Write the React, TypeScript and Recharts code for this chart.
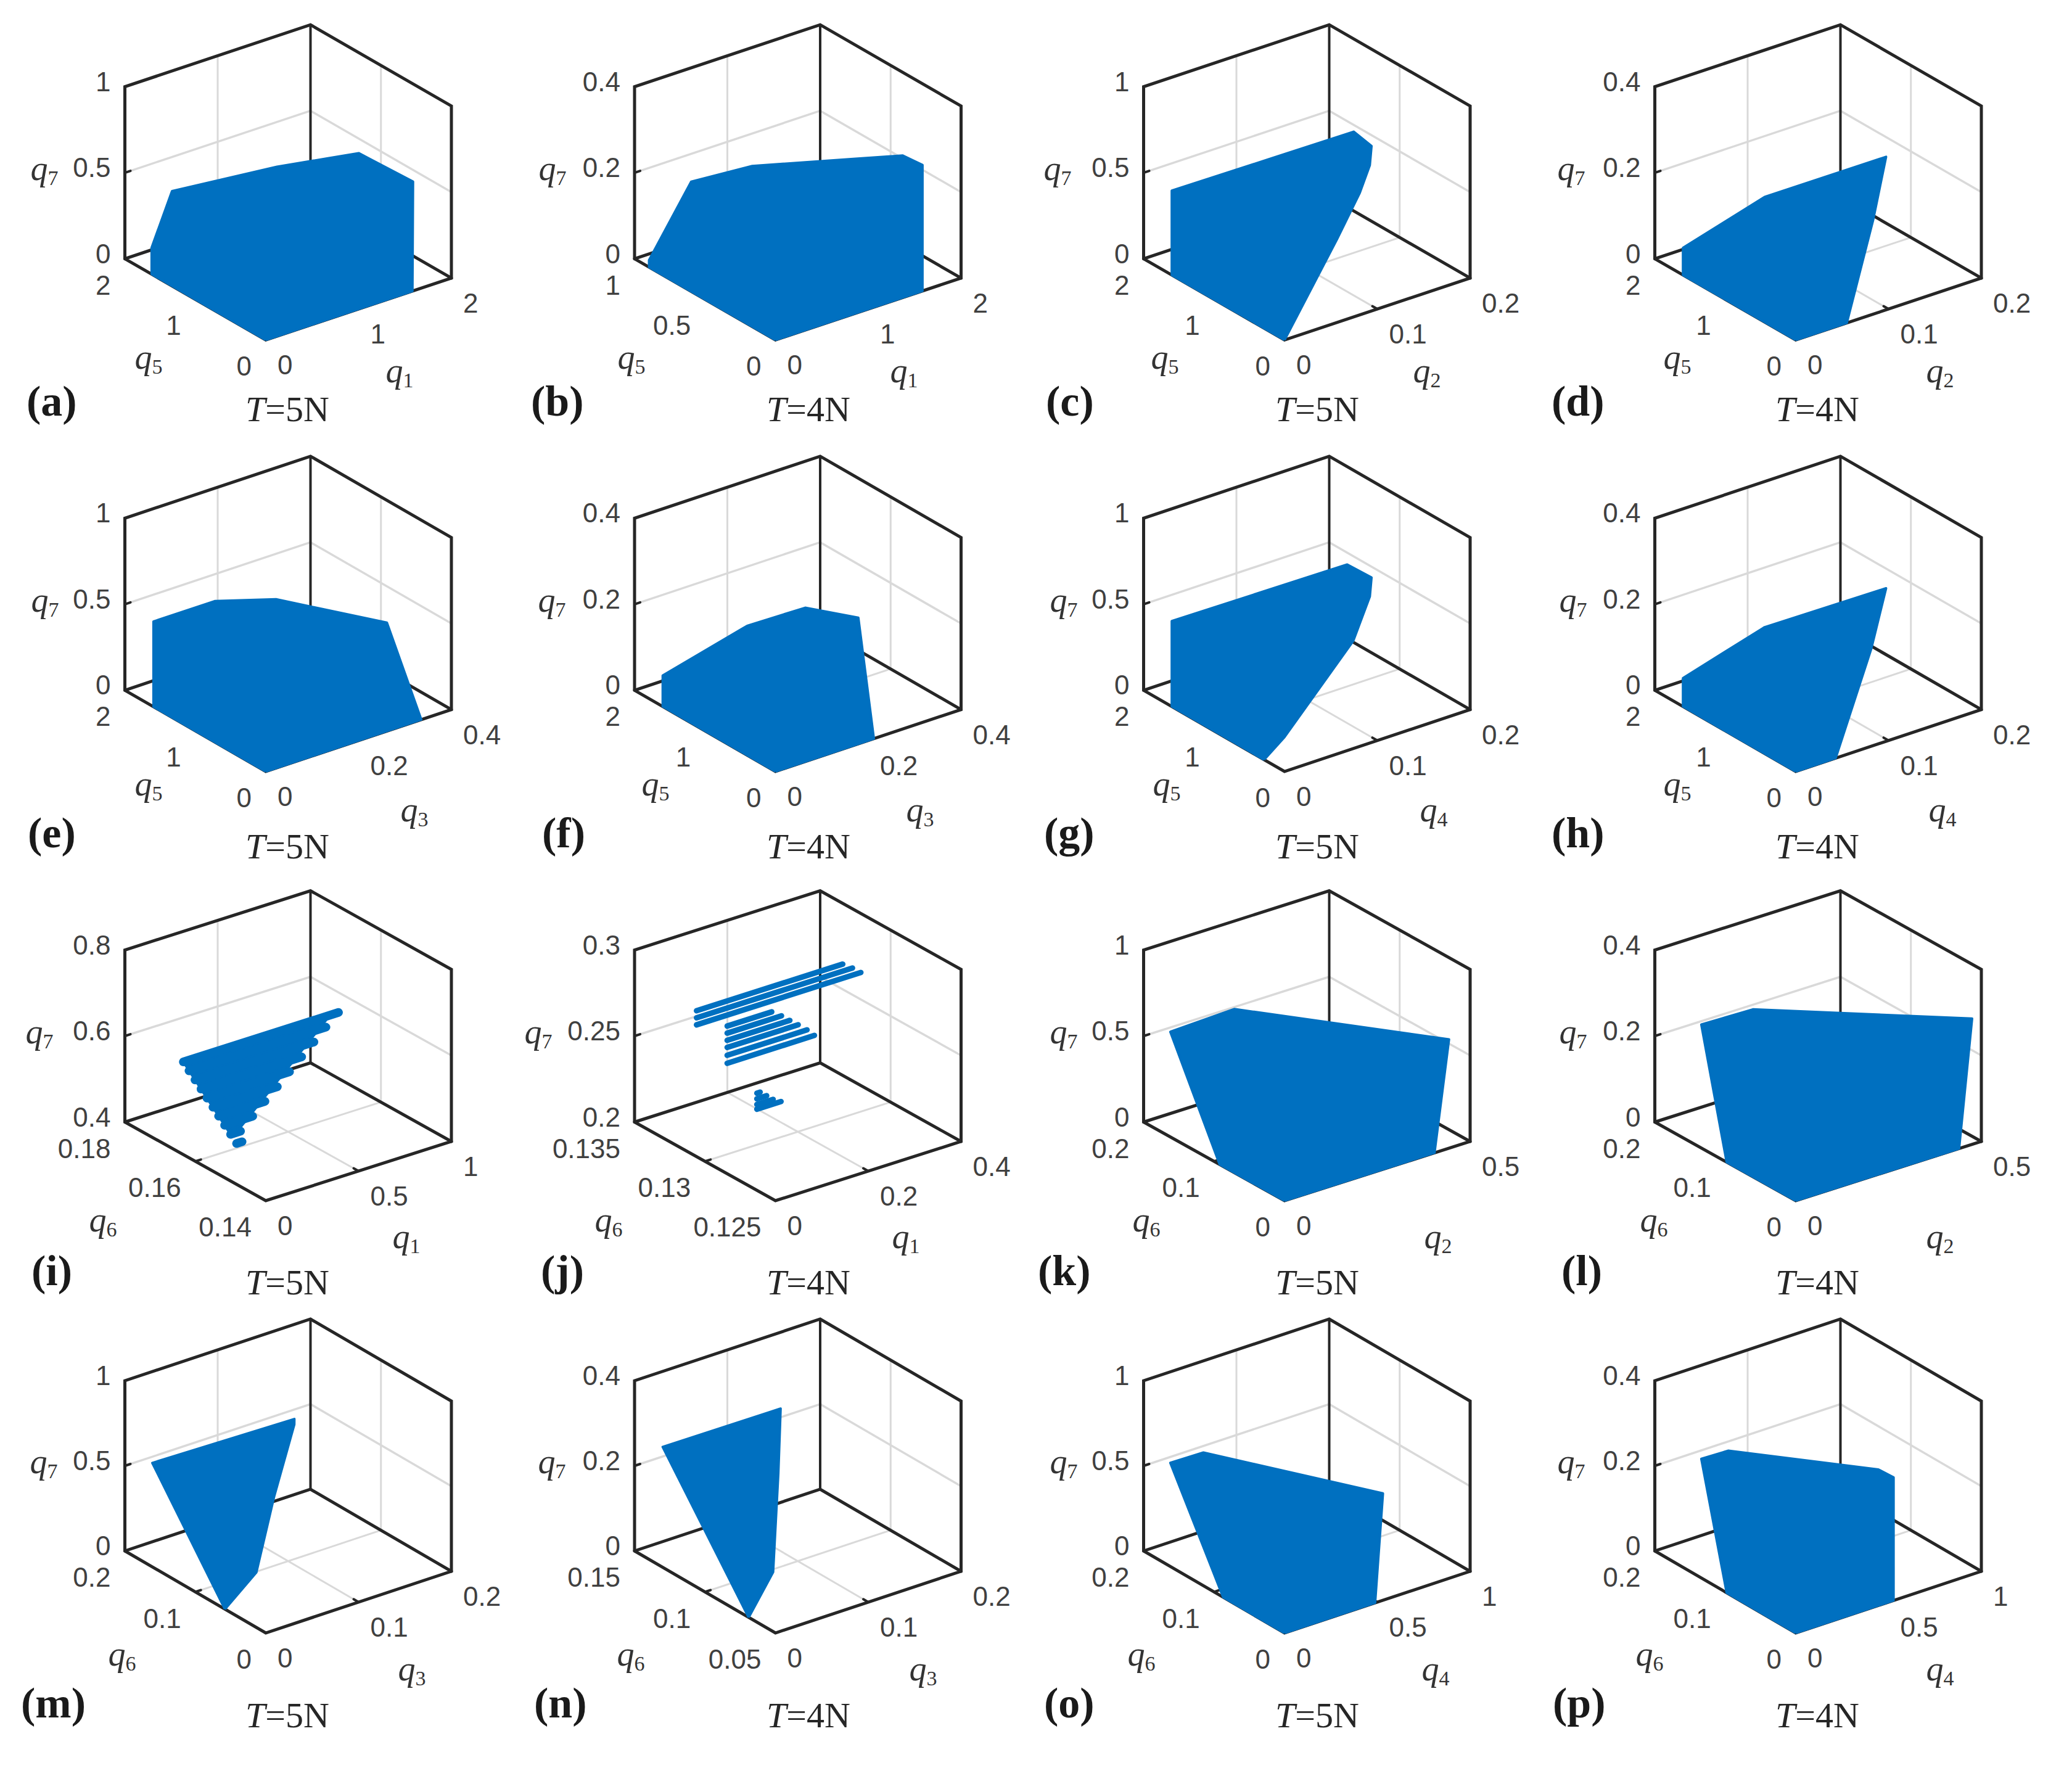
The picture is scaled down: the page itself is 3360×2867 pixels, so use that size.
import React from "react";
import { ScatterChart, Scatter, XAxis, YAxis } from "recharts";

// ---- values ----
const letters = ["a", "b", "c", "d", "e", "f", "g", "h", "i", "j", "k", "l", "m", "n", "o", "p"];
const thrust = [5, 4, 5, 4, 5, 4, 5, 4, 5, 4, 5, 4, 5, 4, 5, 4];
const xSub = [1, 1, 2, 2, 3, 3, 4, 4, 1, 1, 2, 2, 3, 3, 4, 4];
const ySub = [5, 5, 5, 5, 5, 5, 5, 5, 6, 6, 6, 6, 6, 6, 6, 6];

const xTicks = [
  [0, 1, 2], [0, 1, 2], [0, 0.1, 0.2], [0, 0.1, 0.2],
  [0, 0.2, 0.4], [0, 0.2, 0.4], [0, 0.1, 0.2], [0, 0.1, 0.2],
  [0, 0.5, 1], [0, 0.2, 0.4], [0, 0.5], [0, 0.5],
  [0, 0.1, 0.2], [0, 0.1, 0.2], [0, 0.5, 1], [0, 0.5, 1],
];
const yTicks = [
  [0, 1, 2], [0, 0.5, 1], [0, 1, 2], [0, 1, 2],
  [0, 1, 2], [0, 1, 2], [0, 1, 2], [0, 1, 2],
  [0.14, 0.16, 0.18], [0.125, 0.13, 0.135], [0, 0.1, 0.2], [0, 0.1, 0.2],
  [0, 0.1, 0.2], [0.05, 0.1, 0.15], [0, 0.1, 0.2], [0, 0.1, 0.2],
];
const zTicks = [
  [0, 0.5, 1], [0, 0.2, 0.4], [0, 0.5, 1], [0, 0.2, 0.4],
  [0, 0.5, 1], [0, 0.2, 0.4], [0, 0.5, 1], [0, 0.2, 0.4],
  [0.4, 0.6, 0.8], [0.2, 0.25, 0.3], [0, 0.5, 1], [0, 0.2, 0.4],
  [0, 0.5, 1], [0, 0.2, 0.4], [0, 0.5, 1], [0, 0.2, 0.4],
];

// workspace outlines, each point is [x axis value, y axis value, q7]
const hullA = [[0, 0, 0], [0, 1.62, 0], [0, 1.62, 0.154], [0.22, 1.62, 0.443], [1.35, 1.62, 0.381], [1.76, 1, 0.533], [1.89, 0.4, 0.486], [1.58, 0, 0]];
const hullB = [[0, 0, 0], [0, 0.897, 0], [0, 0.897, 0.016], [0.454, 0.897, 0.166], [1.112, 0.897, 0.155], [1.824, 0.3, 0.241], [1.736, 0.1, 0.263], [1.584, 0, 0]];
const hullC = [[0, 0, 0], [0, 1.6, 0], [0, 1.6, 0.49], [0.196, 1.6, 0.48], [0.2, 1.4, 0.437], [0.183, 1.2, 0.404], [0.157, 1, 0.337], [0.102, 0.6, 0.26]];
const hullD = [[0, 0, 0], [0, 1.6, 0], [0, 1.6, 0.063], [0.088, 1.6, 0.118], [0.196, 1.3, 0.162], [0.144, 0.8, 0.099], [0.055, 0, 0]];
const hullE = [[0, 0, 0], [0, 1.594, 0], [0, 1.594, 0.495], [0.132, 1.594, 0.495], [0.264, 1.594, 0.387], [0.352, 0.6, 0.407], [0.335, 0, 0]];
const hullF = [[0, 0, 0], [0, 1.6, 0], [0, 1.6, 0.072], [0.182, 1.6, 0.122], [0.307, 1.6, 0.119], [0.3, 0.8, 0.174], [0.212, 0, 0]];
const hullG = [[0, 0.29, 0], [0, 1.6, 0], [0, 1.6, 0.496], [0.189, 1.6, 0.485], [0.2, 1.4, 0.437], [0.183, 1.2, 0.404], [0.15, 1, 0.254], [0.022, 0.29, 0.092]];
const hullH = [[0, 0, 0], [0, 1.6, 0], [0, 1.6, 0.066], [0.088, 1.6, 0.121], [0.196, 1.3, 0.162], [0.142, 0.8, 0.107], [0.043, 0, 0]];
const hullI = [[0, 0.1634, 0.6156], [0.79, 0.1634, 0.6156], [0.03, 0.15, 0.5084], [0, 0.15, 0.5084]];
const hullK = [[0, 0, 0], [0, 0.092, 0], [0, 0.162, 0.611], [0.172, 0.162, 0.625], [0.481, 0.02, 0.561], [0.404, 0, 0]];
const hullL = [[0, 0, 0], [0, 0.098, 0], [0, 0.134, 0.287], [0.139, 0.134, 0.284], [0.494, 0.01, 0.278], [0.44, 0, 0]];
const hullM = [[0, 0.058, 0], [0, 0.161, 0.611], [0.153, 0.161, 0.592], [0.137, 0.14, 0.639], [0.085, 0.1, 0.409], [0.043, 0.07, 0.11]];
const hullN = [[0, 0.069, 0], [0, 0.13, 0.283], [0.127, 0.13, 0.281], [0.079, 0.1, 0.222], [0.043, 0.08, 0.054]];
const hullO = [[0, 0, 0], [0, 0.087, 0], [0, 0.162, 0.609], [0.178, 0.162, 0.605], [0.682, 0.04, 0.476], [0.488, 0, 0]];
const hullP = [[0, 0, 0], [0, 0.098, 0], [0, 0.134, 0.28], [0.146, 0.134, 0.278], [0.597, 0.04, 0.259], [0.603, 0.02, 0.259], [0.527, 0, 0]];

// panel i: the stepped rows of q1
const rowsIq6 = [0.1634, 0.1618, 0.1601, 0.1584, 0.1567, 0.155, 0.1534, 0.1517, 0.15, 0.1483];
const rowsIq7 = [0.6156, 0.6022, 0.5888, 0.5754, 0.562, 0.5486, 0.5352, 0.5218, 0.5084, 0.495];
const rowsIq1End = [0.836, 0.738, 0.641, 0.543, 0.445, 0.347, 0.25, 0.152, 0.054, 0.03];

// panel j: three groups of separate rows
const rowsJq6 = 0.1306;
const rowsJq7 = [0.2848, 0.2807, 0.2766, 0.2702, 0.2661, 0.2619, 0.2578, 0.2532, 0.2486, 0.2164, 0.2191, 0.2224, 0.2257];
const rowsJq1Start = [0, 0, 0, 0.066, 0.066, 0.066, 0.066, 0.066, 0.066, 0.13, 0.13, 0.13, 0.13];
const rowsJq1End = [0.315, 0.336, 0.354, 0.162, 0.183, 0.201, 0.219, 0.238, 0.254, 0.182, 0.165, 0.151, 0.137];

const hulls = [hullA, hullB, hullC, hullD, hullE, hullF, hullG, hullH, hullI, null, hullK, hullL, hullM, hullN, hullO, hullP];

// ---- layout ----
const PAGE_W = 3360;
const PAGE_H = 2867;
const CHART_W = 880;
const CHART_H = 767;
const colLeft = [0, 826, 1652, 2480];
const rowTop = [0, 700, 1400, 2100];
const frontX = [431, 1257.5, 2083, 2912];
const frontY = [551.3, 1251, 1947, 2648];
const depthXUp = [100.4, 100.4, 96, 100];
const depthYUp = [131.7, 131.7, 127.5, 133];
const boxH = [279, 279, 279, 276];
const xTitleX = [648, 1466, 2314, 3146, 672, 1492, 2325, 3150, 659, 1469, 2332, 3146, 668, 1497, 2328, 3146];
const yTitleX = [241, 1024, 1889, 2720, 241, 1063, 1892, 2720, 167, 987, 1859, 2682, 198, 1023, 1851, 2675];
const zTitleX = [72, 896, 1715, 2548, 73, 895, 1725, 2551, 64, 873, 1725, 2551, 71, 895, 1725, 2548];
const letterX = [43, 861, 1696, 2516, 45, 879, 1693, 2516, 51, 877, 1683, 2532, 34, 866, 1693, 2518];
const captionX = [466, 1311, 2136, 2947];
const letterY = [674, 1374, 2084, 2785];
const captionY = [683, 1392, 2099, 2801];
const xTitleDy = [69, 81, 77, 77];
const yTitleDy = [47, 39, 50, 53];

const BLUE = "#0070c0";
const DARK = "#262626";
const GRID = "#d9d9d9";
const TICK_TEXT = "#404040";
const SANS = "Liberation Sans";
const SERIF = "Liberation Serif";

const NoMark = () => null;

function line(key: string, pts: any[], stroke: string, width: number) {
  return (
    <Scatter
      key={key}
      data={pts}
      shape={NoMark}
      line={{ stroke, strokeWidth: width, strokeLinecap: "round", strokeLinejoin: "miter" }}
      lineType="joint"
      isAnimationActive={false}
    />
  );
}

function labels(key: string, pts: any[], render: (s: any) => any) {
  return <Scatter key={key} data={pts} shape={render} isAnimationActive={false} />;
}

function AxisTitle({ x, y, sub }: any) {
  return (
    <text x={x} y={y} textAnchor="middle" fontFamily={SERIF} fill="#333333">
      <tspan fontStyle="italic" fontSize={56}>q</tspan>
      <tspan fontSize={34} dy={8}>{sub}</tspan>
    </text>
  );
}

function Panel({ index }: { index: number }) {
  const col = index % 4;
  const row = Math.floor(index / 4);
  const left = colLeft[col];
  const top = rowTop[row];
  const xT = xTicks[index];
  const yT = yTicks[index];
  const zT = zTicks[index];
  const [x0, x1] = [xT[0], xT[xT.length - 1]];
  const [y0, y1] = [yT[0], yT[yT.length - 1]];
  const [z0, z1] = [zT[0], zT[zT.length - 1]];

  // 3D value -> plane of the chart, the view MATLAB used for every box
  const at = (a: number, b: number, c: number) => {
    const fa = (a - x0) / (x1 - x0);
    const fb = (b - y0) / (y1 - y0);
    const fc = (c - z0) / (z1 - z0);
    return {
      x: frontX[col] - left + fa * 301 - fb * 228.5,
      y: frontY[row] - top - fa * depthXUp[row] - fb * depthYUp[row] - fc * boxH[row],
    };
  };
  const midX = xT.slice(1, -1);
  const midY = yT.slice(1, -1);
  const midZ = zT.slice(1, -1);
  const series: any[] = [];

  // back walls and floor grid
  midX.forEach((v) => {
    series.push(line(`gx${v}`, [at(v, y0, z0), at(v, y1, z0), at(v, y1, z1)], GRID, 3));
  });
  midY.forEach((v) => {
    series.push(line(`gy${v}`, [at(x0, v, z0), at(x1, v, z0), at(x1, v, z1)], GRID, 3));
  });
  midZ.forEach((v) => {
    series.push(line(`gz${v}`, [at(x0, y1, v), at(x1, y1, v), at(x1, y0, v)], GRID, 3.5));
  });

  // box edges
  series.push(line("back", [at(x1, y1, z1), at(x1, y1, z0)], DARK, 4));
  series.push(line("floor", [at(x0, y1, z0), at(x1, y1, z0), at(x1, y0, z0)], DARK, 5));
  series.push(
    line(
      "frame",
      [at(x0, y1, z0), at(x0, y1, z1), at(x1, y1, z1), at(x1, y0, z1), at(x1, y0, z0), at(x0, y0, z0), at(x0, y1, z0)],
      DARK,
      5,
    ),
  );

  // small inward ticks
  midX.forEach((v) => series.push(line(`tx${v}`, [at(v, y0, z0), at(v, y0 + (y1 - y0) * 0.035, z0)], DARK, 4)));
  midY.forEach((v) => series.push(line(`ty${v}`, [at(x0, v, z0), at(x0 + (x1 - x0) * 0.03, v, z0)], DARK, 4)));
  midZ.forEach((v) => series.push(line(`tz${v}`, [at(x0, y1, v), at(x0 + (x1 - x0) * 0.03, y1, v)], DARK, 4)));

  // workspace
  const hull = hulls[index];
  if (hull) {
    const pts = hull.map((p) => at(p[0], p[1], p[2]));
    series.push(
      <Scatter
        key="hull"
        data={[...pts, pts[0]]}
        shape={NoMark}
        line={{ stroke: BLUE, fill: BLUE, strokeWidth: 4, strokeLinejoin: "round" }}
        lineType="joint"
        isAnimationActive={false}
      />,
    );
  }
  const rowLine = (key: string, pts: any[], width: number) => (
    <Scatter
      key={key}
      data={pts}
      shape={NoMark}
      line={{ stroke: BLUE, strokeWidth: width, strokeLinecap: "round" }}
      lineType="joint"
      isAnimationActive={false}
    />
  );
  if (index === 8) {
    rowsIq7.forEach((z, i) => {
      series.push(rowLine(`ri${i}`, [at(0, rowsIq6[i], z), at(rowsIq1End[i], rowsIq6[i], z)], 14));
    });
  }
  if (index === 9) {
    rowsJq7.forEach((z, i) => {
      series.push(rowLine(`rj${i}`, [at(rowsJq1Start[i], rowsJq6, z), at(rowsJq1End[i], rowsJq6, z)], 9));
    });
  }

  // tick labels
  const tickText = (s: any, anchor: string, dx: number, dy: number) => (
    <text x={s.cx + dx} y={s.cy + dy} textAnchor={anchor} fontFamily={SANS} fontSize={44} fill={TICK_TEXT}>
      {s.payload.text}
    </text>
  );
  series.push(
    labels("lz", zT.map((v) => ({ ...at(x0, y1, v), text: String(v) })), (s) => tickText(s, "end", -23, 7)),
    labels("ly", yT.map((v) => ({ ...at(x0, v, z0), text: String(v) })), (s) => tickText(s, "end", -23, 58)),
    labels("lx", xT.map((v) => ({ ...at(v, y0, z0), text: String(v) })), (s) => tickText(s, "start", 19, 56)),
  );

  // axis titles, panel letter, caption
  const fy = frontY[row] - top;
  const zMid = at(x0, y1, (z0 + z1) / 2);
  series.push(
    labels("tz", [{ x: zTitleX[index] - left, y: zMid.y + 12 }], (s) => <AxisTitle x={s.cx} y={s.cy} sub={7} />),
    labels("ty", [{ x: yTitleX[index] - left, y: fy + yTitleDy[row] }], (s) => <AxisTitle x={s.cx} y={s.cy} sub={ySub[index]} />),
    labels("tx", [{ x: xTitleX[index] - left, y: fy + xTitleDy[row] }], (s) => <AxisTitle x={s.cx} y={s.cy} sub={xSub[index]} />),
    labels("let", [{ x: letterX[index] - left, y: letterY[row] - top }], (s) => (
      <text x={s.cx} y={s.cy} fontFamily={SERIF} fontWeight="bold" fontSize={70} fill="#1a1a1a">
        ({letters[index]})
      </text>
    )),
    labels("cap", [{ x: captionX[col] - left, y: captionY[row] - top }], (s) => (
      <text x={s.cx} y={s.cy} textAnchor="middle" fontFamily={SERIF} fontSize={58} fill="#262626">
        <tspan fontStyle="italic">T</tspan>={thrust[index]}N
      </text>
    )),
  );

  return (
    <div style={{ position: "absolute", left, top }}>
      <ScatterChart width={CHART_W} height={CHART_H} margin={{ top: 0, right: 0, bottom: 0, left: 0 }}>
        <XAxis type="number" dataKey="x" domain={[0, CHART_W]} hide />
        <YAxis type="number" dataKey="y" domain={[0, CHART_H]} reversed hide />
        {series}
      </ScatterChart>
    </div>
  );
}

export default function App() {
  return (
    <div style={{ position: "absolute", left: 0, top: 0, width: PAGE_W, height: PAGE_H, background: "#fff", overflow: "hidden" }}>
      {letters.map((l, i) => (
        <Panel key={l} index={i} />
      ))}
    </div>
  );
}
